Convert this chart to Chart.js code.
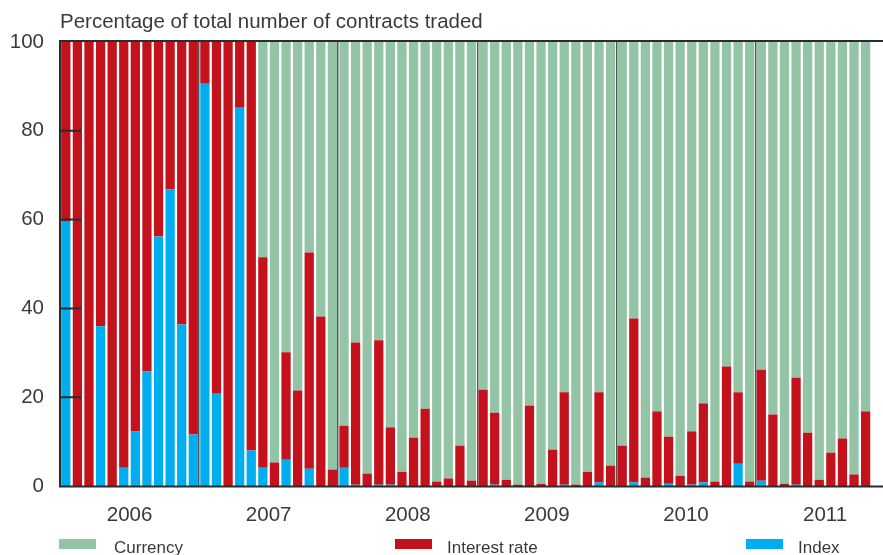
<!DOCTYPE html>
<html>
<head>
<meta charset="utf-8">
<script src="https://cdn.jsdelivr.net/npm/chart.js@4.4.1/dist/chart.umd.min.js"></script>
<style>
  html, body { margin: 0; padding: 0; background: #fff; }
  #wrap { position: relative; width: 883px; height: 555px; overflow: hidden;
          font-family: 'Liberation Sans', Arial, sans-serif; color: #3a3a3a; }
  #chart { position: absolute; left: 0; top: 0; }
  .title { position: absolute; left: 60px; top: 10.6px; font-size: 20.5px; line-height: 20.5px; white-space: nowrap; }
  .swatch { position: absolute; top: 539px; width: 37px; height: 10px; }
  .key { position: absolute; top: 538.6px; font-size: 17px; line-height: 17px; white-space: nowrap; }
</style>
</head>
<body>
<div id="wrap">
  <canvas id="chart" width="883" height="555"></canvas>
  <div class="title">Percentage of total number of contracts traded</div>
  <div class="swatch" style="left:59px;background:#93c4a5"></div>
  <div class="key" style="left:114px">Currency</div>
  <div class="swatch" style="left:395px;background:#c4121c"></div>
  <div class="key" style="left:447px">Interest rate</div>
  <div class="swatch" style="left:746px;background:#00adef"></div>
  <div class="key" style="left:798px">Index</div>
</div>
<script>
// monthly share of contracts traded, Jan 2006 - Oct 2011 (Nov 2011 slot left empty)
const years = ['2006', '2007', '2008', '2009', '2010', '2011']
const months = ['Jan', 'Feb', 'Mar', 'Apr', 'May', 'Jun', 'Jul', 'Aug', 'Sep', 'Oct', 'Nov', 'Dec']

const indexShare = [
  59.5, 0, 0, 36.0, 0, 4.1, 12.3, 25.8, 56.2, 66.8, 36.4, 11.6,
  90.6, 20.8, 0, 85.2, 8.0, 4.1, 0, 5.9, 0, 3.9, 0, 0,
  4.1, 0.3, 0, 0.3, 0.3, 0, 0, 0, 0, 0, 0, 0,
  0, 0.3, 0, 0, 0, 0, 0, 0.3, 0, 0, 0.8, 0,
  0, 0.8, 0, 0, 0.5, 0, 0.3, 0.8, 0, 0, 5.0, 0,
  1.2, 0, 0, 0.3, 0, 0, 0, 0, 0, 0
]
const interestShare = [
  40.5, 100, 100, 64.0, 100, 95.9, 87.7, 74.2, 43.8, 33.2, 63.6, 88.4,
  9.4, 79.2, 100, 14.8, 92.0, 47.4, 5.3, 24.2, 21.5, 48.7, 38.2, 3.7,
  9.5, 32.0, 2.8, 32.5, 12.9, 3.2, 10.9, 17.4, 1.0, 1.7, 9.1, 1.2,
  21.7, 16.2, 1.4, 0.3, 18.1, 0.5, 8.2, 20.8, 0.3, 3.2, 20.3, 4.6,
  9.1, 36.9, 1.9, 16.8, 10.6, 2.3, 12.0, 17.8, 1.0, 26.9, 16.1, 1.0,
  25.0, 16.1, 0.5, 24.1, 12.0, 1.4, 7.5, 10.7, 2.6, 16.8
]
const currencyShare = [
  0, 0, 0, 0, 0, 0, 0, 0, 0, 0, 0, 0,
  0, 0, 0, 0, 0, 48.5, 94.7, 69.9, 78.5, 47.4, 61.8, 96.3,
  86.4, 67.7, 97.2, 67.2, 86.8, 96.8, 89.1, 82.6, 99.0, 98.3, 90.9, 98.8,
  78.3, 83.5, 98.6, 99.7, 81.9, 99.5, 91.8, 78.9, 99.7, 96.8, 78.9, 95.4,
  90.9, 62.3, 98.1, 83.2, 88.9, 97.7, 87.7, 81.4, 99.0, 73.1, 78.9, 99.0,
  73.8, 83.9, 99.5, 75.6, 88.0, 98.6, 92.5, 89.3, 97.4, 83.2
]
const yTicks = [0, 20, 40, 60, 80, 100]

const labels = []
years.forEach(y => months.forEach(m => labels.push(m + ' ' + y)))
labels.splice(71) // axis runs to Nov 2011

const tickFont = { family: '"Liberation Sans", Arial, sans-serif', size: 20.5 }

// outer frame plus the short inward ticks on the value axis
const frame = {
  id: 'frame',
  afterDatasetsDraw (chart) {
    const { ctx, chartArea: a, scales: { y } } = chart
    ctx.save()
    ctx.strokeStyle = '#2b2b2b'
    ctx.lineWidth = 2
    ctx.beginPath()
    ctx.moveTo(a.left, a.top - 1)
    ctx.lineTo(a.right, a.top - 1)
    ctx.moveTo(a.left, a.bottom + 0.5)
    ctx.lineTo(a.right, a.bottom + 0.5)
    ctx.moveTo(a.left, a.top - 2)
    ctx.lineTo(a.left, a.bottom + 1.5)
    yTicks.slice(1, -1).forEach(v => {
      const py = y.getPixelForValue(v)
      ctx.moveTo(a.left, py)
      ctx.lineTo(a.left + 21, py)
    })
    ctx.stroke()
    ctx.restore()
  }
}

const ctx = document.getElementById('chart')
const myChart = new Chart(ctx, {
  type: 'bar',
  data: {
    labels: labels,
    datasets: [
      { label: 'Index', data: indexShare, backgroundColor: '#00adef' },
      { label: 'Interest rate', data: interestShare, backgroundColor: '#c4121c' },
      { label: 'Currency', data: currencyShare, backgroundColor: '#93c4a5' }
    ]
  },
  options: {
    responsive: false,
    animation: false,
    events: [],
    layout: { padding: { top: 42, right: 0, bottom: 0, left: 0 } },
    datasets: { bar: { barPercentage: 0.8, categoryPercentage: 1, borderWidth: 0 } },
    plugins: { legend: { display: false }, title: { display: false }, tooltip: { enabled: false } },
    scales: {
      x: {
        stacked: true,
        afterFit: scale => {
          scale.height = 69
          scale.paddingLeft = 0
          scale.paddingRight = 0
        },
        border: { display: false },
        grid: {
          offset: true,
          drawTicks: false,
          lineWidth: 1.5,
          color: c => (c.index > 0 && c.index % 12 === 0) ? '#555' : 'rgba(0,0,0,0)'
        },
        ticks: {
          autoSkip: false,
          maxRotation: 0,
          padding: 17,
          labelOffset: 5.8,
          color: '#3a3a3a',
          font: tickFont,
          callback: (v, i) => i % 12 === 5 ? years[i / 12 | 0] : ''
        }
      },
      y: {
        stacked: true,
        min: 0,
        max: 100,
        afterFit: scale => { scale.width = 60 },
        afterBuildTicks: scale => { scale.ticks = yTicks.map(v => ({ value: v })) },
        border: { display: false },
        grid: { display: false, drawTicks: false },
        ticks: { padding: 16, color: '#3a3a3a', font: tickFont }
      }
    }
  },
  plugins: [frame]
})
</script>
</body>
</html>
